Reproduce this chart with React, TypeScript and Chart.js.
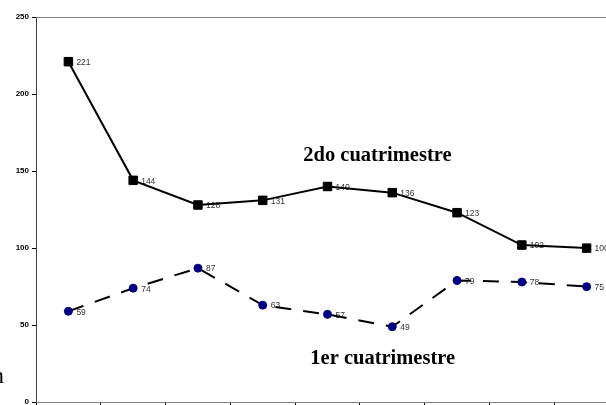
import React, { useEffect, useRef } from "react";
import { Chart, registerables } from "chart.js";

Chart.register(...registerables);

const categories = ["1", "2", "3", "4", "5", "6", "7", "8", "9"];
const segundoCuatrimestre = [221, 144, 128, 131, 140, 136, 123, 102, 100];
const primerCuatrimestre = [59, 74, 87, 63, 57, 49, 79, 78, 75];
const yTicks = [0, 50, 100, 150, 200, 250];

const annotations = [
  { text: "2do cuatrimestre", xIndex: 3.627, yValue: 156.5, font: "bold 20.5px 'Liberation Serif'" },
  { text: "1er cuatrimestre", xIndex: 3.735, yValue: 24.7, font: "bold 20.5px 'Liberation Serif'" },
  { text: "n", xIndex: -1.18, yValue: 12.3, font: "24px 'Liberation Serif'" },
];

const labelsPlugin = {
  id: "valueLabels",
  beforeDatasetsDraw(chart: any) {
    const ctx = chart.ctx;
    ctx.save();
    ctx.font = "8.5px 'Liberation Sans'";
    ctx.fillStyle = "#333";
    ctx.textAlign = "left";
    ctx.textBaseline = "middle";
    chart.data.datasets.forEach((ds: any, di: number) => {
      const meta = chart.getDatasetMeta(di);
      meta.data.forEach((el: any, i: number) => {
        ctx.fillText(String(ds.data[i]), el.x + 8, el.y + 1);
      });
    });
    ctx.restore();
  },
  afterDraw(chart: any) {
    const ctx = chart.ctx;
    const { top, left } = chart.chartArea;
    ctx.save();
    ctx.strokeStyle = "#808080";
    ctx.lineWidth = 1;
    ctx.beginPath();
    ctx.moveTo(left, top + 0.5);
    ctx.lineTo(chart.width, top + 0.5);
    ctx.stroke();
    const xs = chart.scales.x;
    const ys = chart.scales.y;
    ctx.fillStyle = "#000";
    ctx.textAlign = "left";
    ctx.textBaseline = "alphabetic";
    annotations.forEach((a) => {
      ctx.font = a.font;
      ctx.fillText(a.text, xs.getPixelForValue(a.xIndex), ys.getPixelForValue(a.yValue));
    });
    ctx.restore();
  },
};

export default function App() {
  const ref = useRef<HTMLCanvasElement | null>(null);
  useEffect(() => {
    if (!ref.current) return;
    const chart = new Chart(ref.current, {
      type: "line",
      data: {
        labels: categories,
        datasets: [
          {
            label: "2do cuatrimestre",
            data: segundoCuatrimestre,
            borderColor: "#000",
            borderWidth: 2,
            pointStyle: "rect",
            pointRadius: 6,
            pointBackgroundColor: "#000",
            pointBorderColor: "#000",
            pointBorderWidth: 1,
            tension: 0,
          },
          {
            label: "1er cuatrimestre",
            data: primerCuatrimestre,
            borderColor: "#000",
            borderWidth: 2,
            borderDash: [16, 12],
            pointStyle: "circle",
            pointRadius: 4,
            pointBackgroundColor: "#000080",
            pointBorderColor: "#000080",
            pointBorderWidth: 1,
            tension: 0,
          },
        ],
      },
      options: {
        responsive: false,
        animation: false,
        devicePixelRatio: 1,
        layout: { padding: { left: 0, top: 17, right: 2, bottom: 0 } },
        plugins: { legend: { display: false }, tooltip: { enabled: false } },
        scales: {
          x: {
            type: "category",
            offset: true,
            grid: { display: true, offset: true, drawOnChartArea: false, drawTicks: true, tickLength: 4, color: "#000" },
            border: { display: true, color: "#808080", width: 1 },
            ticks: { display: false },
          },
          y: {
            min: 0,
            max: 250,
            afterFit(scale: any) {
              scale.width = 36;
            },
            afterBuildTicks(scale: any) {
              scale.ticks = yTicks.map((v) => ({ value: v }));
            },
            grid: { display: true, drawOnChartArea: false, drawTicks: true, tickLength: 4, color: "#000" },
            border: { display: true, color: "#404040", width: 1 },
            ticks: {
              padding: 3,
              color: "#000",
              font: { family: "'Liberation Sans'", size: 8, weight: "bold" },
            },
          },
        },
      },
      plugins: [labelsPlugin],
    });
    return () => chart.destroy();
  }, []);
  return (
    <div style={{ position: "fixed", left: 0, top: 0, width: 606, height: 405, overflow: "hidden", background: "#fff" }}>
      <canvas ref={ref} width={626} height={410} style={{ width: 626, height: 410, display: "block" }} />
    </div>
  );
}
